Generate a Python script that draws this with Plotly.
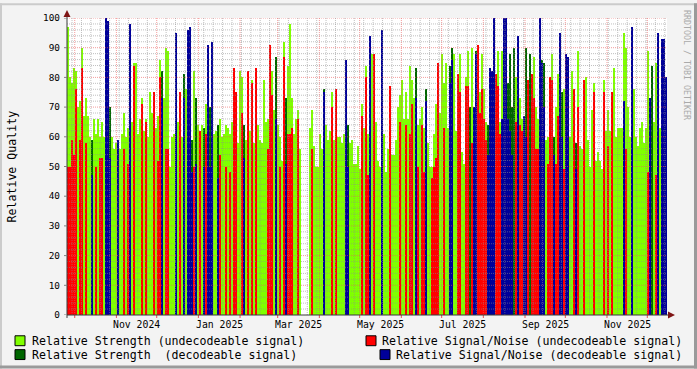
import plotly.graph_objects as go
import pandas as pd

# ---- data (one value per consolidated time step, 0 = no sample) ----
strength_undec = [
    97, 80, 78, 83, 82, 70, 72, 90, 67, 73,
    67, 60, 0, 66, 61, 66, 60, 65, 60, 0,
    0, 0, 60, 56, 58, 0, 56, 61, 68, 60,
    63, 0, 65, 85, 85, 61, 66, 73, 62, 66,
    60, 75, 68, 70, 63, 67, 86, 0, 73, 90,
    89, 50, 60, 61, 0, 65, 60, 60, 0, 76,
    0, 0, 0, 82, 0, 64, 62, 64, 0, 71,
    0, 0, 0, 61, 62, 0, 66, 60, 61, 64,
    63, 61, 65, 82, 65, 58, 82, 80, 0, 59,
    63, 62, 79, 58, 60, 64, 59, 58, 79, 65,
    66, 64, 82, 69, 0, 64, 60, 52, 92, 0,
    84, 98, 73, 61, 66, 69, 56, 0, 0, 0,
    0, 63, 69, 57, 50, 50, 61, 56, 0, 64,
    59, 62, 75, 59, 76, 60, 60, 58, 61, 0,
    0, 58, 59, 51, 51, 57, 49, 71, 63, 84,
    61, 0, 88, 88, 65, 52, 50, 0, 61, 48,
    56, 59, 54, 54, 59, 70, 74, 79, 66, 75,
    66, 84, 79, 73, 0, 64, 66, 70, 63, 0,
    58, 50, 50, 61, 71, 70, 68, 88, 78, 85,
    63, 0, 0, 88, 62, 80, 88, 55, 51, 80,
    89, 0, 90, 0, 0, 68, 75, 88, 76, 65,
    0, 0, 0, 0, 70, 89, 65, 89, 0, 0,
    0, 0, 0, 0, 80, 0, 73, 66, 0, 0,
    60, 0, 76, 87, 70, 66, 0, 0, 0, 59,
    60, 75, 88, 0, 70, 81, 0, 0, 76, 0,
    0, 60, 82, 63, 0, 89, 57, 56, 68, 80,
    59, 50, 69, 78, 52, 55, 52, 49, 79, 62,
    69, 62, 61, 83, 60, 63, 63, 63, 95, 90,
    70, 60, 0, 76, 60, 57, 63, 65, 58, 63,
    89, 0, 0, 65, 85, 0, 63, 0, 0, 0,
]
snr_undec = [
    50, 50, 59, 54, 76, 0, 59, 83, 0, 58,
    0, 0, 0, 0, 50, 0, 53, 53, 0, 0,
    0, 0, 0, 0, 0, 0, 0, 0, 56, 0,
    51, 0, 0, 84, 0, 0, 0, 71, 0, 65,
    0, 0, 0, 75, 0, 52, 80, 0, 0, 56,
    56, 0, 0, 0, 0, 0, 75, 0, 0, 0,
    0, 0, 0, 50, 0, 0, 62, 0, 0, 61,
    0, 0, 0, 0, 0, 0, 54, 0, 0, 50,
    0, 48, 0, 83, 75, 0, 0, 68, 0, 0,
    82, 0, 78, 0, 83, 0, 0, 0, 0, 0,
    56, 91, 74, 0, 0, 0, 50, 0, 87, 0,
    61, 61, 63, 0, 0, 66, 0, 0, 0, 0,
    0, 0, 56, 0, 0, 0, 0, 0, 0, 0,
    0, 0, 70, 0, 76, 0, 0, 0, 0, 0,
    0, 0, 0, 0, 0, 0, 0, 67, 0, 80,
    47, 0, 0, 88, 0, 0, 0, 0, 0, 0,
    0, 77, 0, 0, 0, 0, 65, 0, 0, 64,
    0, 61, 71, 0, 0, 50, 0, 64, 48, 0,
    0, 0, 46, 50, 53, 85, 0, 0, 63, 0,
    0, 0, 0, 0, 0, 81, 75, 0, 0, 77,
    77, 0, 58, 0, 0, 91, 68, 76, 66, 59,
    0, 0, 0, 0, 81, 77, 61, 0, 0, 0,
    0, 0, 0, 0, 65, 0, 64, 62, 0, 0,
    79, 0, 81, 73, 56, 56, 0, 0, 0, 0,
    51, 80, 79, 0, 51, 67, 0, 0, 49, 0,
    0, 0, 0, 76, 0, 70, 0, 0, 79, 0,
    0, 0, 0, 75, 0, 0, 0, 0, 75, 0,
    57, 0, 75, 0, 0, 0, 0, 0, 0, 56,
    0, 0, 0, 0, 0, 0, 0, 0, 0, 0,
    48, 0, 0, 0, 47, 0, 0, 0, 0, 0,
]
strength_dec = [
    0, 0, 0, 0, 0, 0, 0, 0, 0, 0,
    0, 0, 59, 0, 0, 0, 0, 0, 0, 89,
    76, 70, 0, 0, 0, 0, 0, 0, 0, 0,
    0, 0, 0, 0, 0, 0, 0, 0, 0, 0,
    0, 0, 0, 0, 0, 0, 0, 82, 0, 0,
    0, 0, 0, 0, 80, 0, 0, 0, 81, 0,
    90, 90, 59, 0, 73, 0, 0, 0, 63, 0,
    70, 70, 0, 0, 0, 64, 0, 0, 0, 0,
    0, 0, 0, 0, 0, 0, 0, 0, 64, 0,
    0, 0, 0, 0, 0, 0, 0, 0, 0, 0,
    0, 0, 0, 0, 87, 0, 0, 0, 0, 73,
    0, 0, 0, 0, 0, 0, 0, 0, 0, 0,
    0, 0, 0, 0, 0, 0, 0, 0, 76, 0,
    0, 0, 0, 0, 0, 0, 0, 0, 0, 58,
    64, 0, 0, 0, 0, 0, 0, 0, 0, 0,
    0, 82, 0, 0, 0, 0, 0, 0, 0, 0,
    0, 0, 0, 0, 0, 0, 0, 0, 0, 0,
    0, 0, 0, 0, 83, 0, 0, 0, 0, 76,
    0, 0, 0, 0, 0, 0, 0, 0, 0, 0,
    0, 84, 90, 0, 0, 0, 0, 0, 0, 0,
    0, 70, 0, 0, 89, 0, 0, 0, 0, 0,
    64, 63, 82, 0, 0, 0, 0, 0, 88, 77,
    78, 88, 70, 90, 0, 0, 0, 0, 0, 90,
    0, 88, 0, 0, 0, 0, 82, 86, 85, 0,
    0, 0, 0, 60, 0, 0, 73, 75, 0, 0,
    0, 0, 0, 0, 58, 0, 0, 0, 0, 0,
    0, 0, 0, 0, 0, 0, 0, 0, 0, 0,
    0, 0, 0, 0, 0, 0, 0, 0, 0, 0,
    0, 0, 90, 0, 0, 0, 0, 0, 0, 0,
    0, 50, 84, 0, 0, 0, 0, 63, 80, 64,
]
snr_dec = [
    0, 0, 0, 0, 0, 0, 0, 0, 0, 0,
    0, 0, 47, 0, 0, 0, 0, 0, 0, 100,
    99, 53, 0, 0, 0, 59, 0, 0, 0, 0,
    0, 98, 0, 0, 0, 0, 0, 0, 0, 0,
    0, 0, 0, 0, 0, 0, 0, 73, 0, 0,
    0, 0, 0, 0, 95, 0, 0, 0, 73, 0,
    96, 97, 48, 0, 51, 0, 0, 0, 50, 0,
    91, 50, 92, 0, 0, 46, 0, 0, 0, 0,
    0, 0, 0, 0, 0, 0, 0, 0, 53, 0,
    0, 0, 0, 0, 0, 0, 0, 0, 0, 0,
    0, 0, 0, 0, 66, 0, 0, 0, 0, 51,
    0, 0, 0, 0, 0, 0, 0, 0, 0, 0,
    0, 0, 0, 0, 0, 0, 0, 0, 75, 0,
    0, 0, 0, 0, 0, 0, 0, 0, 0, 86,
    50, 0, 0, 0, 0, 0, 0, 0, 0, 0,
    0, 94, 0, 0, 0, 0, 0, 96, 0, 0,
    0, 0, 0, 0, 0, 0, 0, 0, 0, 0,
    0, 0, 0, 0, 73, 0, 0, 0, 0, 72,
    0, 0, 0, 0, 0, 0, 0, 0, 0, 0,
    0, 78, 86, 0, 0, 0, 0, 0, 0, 0,
    0, 0, 0, 70, 88, 0, 0, 0, 0, 0,
    54, 83, 82, 100, 0, 0, 0, 66, 100, 100,
    66, 62, 54, 0, 0, 94, 0, 0, 67, 60,
    0, 0, 0, 0, 0, 0, 100, 85, 70, 0,
    0, 0, 0, 54, 0, 0, 95, 60, 0, 88,
    87, 0, 0, 0, 49, 0, 0, 0, 0, 0,
    0, 0, 0, 0, 0, 0, 0, 0, 0, 0,
    0, 0, 0, 0, 0, 0, 0, 0, 72, 0,
    0, 0, 97, 0, 0, 0, 0, 0, 0, 0,
    0, 73, 0, 0, 0, 95, 0, 93, 93, 80,
]

series_names = [
    "Relative Strength (undecodeable signal)",
    "Relative Signal/Noise (undecodeable signal)",
    "Relative Strength\u00a0\u00a0(decodeable signal)",
    "Relative Signal/Noise (decodeable signal)",
]
series_colors = ["#80ff00", "#ff0000", "#006600", "#000099"]
month_labels = ["Nov 2024", "Jan 2025", "Mar 2025", "May 2025", "Jul 2025", "Sep 2025", "Nov 2025"]
month_label_starts = ["2024-11-01", "2025-01-01", "2025-03-01", "2025-05-01", "2025-07-01", "2025-09-01", "2025-11-01"]
y_tick_values = list(range(0, 101, 10))

# ---- time axis (rrd steps) ----
t_start = pd.Timestamp("2024-09-25 06:00")
t_end = pd.Timestamp("2025-12-15 15:36")
edges = pd.date_range(t_start, t_end, periods=len(strength_undec) + 1)
centers = edges[:-1] + (edges[1:] - edges[:-1]) / 2
step_ms = (edges[1] - edges[0]).total_seconds() * 1000

# ---- pixel helpers ----
W, H = 697, 369
L, R, T, B = 67, 30, 15, 54
PW, PH = W - L - R, H - T - B


def px(x):
    return (x - L) / PW


def py(y):
    return (H - B - y) / PH


FONT = "DejaVu Sans Mono"

fig = go.Figure()
for vals, col, name in zip([strength_undec, snr_undec, strength_dec, snr_dec], series_colors, series_names):
    fig.add_trace(go.Bar(
        x=centers, y=[v if v else None for v in vals], width=step_ms,
        marker=dict(color=col, line=dict(width=0)), name=name,
        showlegend=False, hoverinfo="skip",
    ))

shapes = []
minor_c = "rgba(140,140,140,0.55)"
major_c = "rgba(235,90,90,0.6)"
# horizontal grid
for v in range(2, 100, 2):
    if v % 10:
        shapes.append(dict(type="line", xref="paper", yref="y", x0=0, x1=1, y0=v, y1=v,
                           line=dict(color=minor_c, width=1, dash="1px,1px"), layer="above"))
for v in range(10, 101, 10):
    shapes.append(dict(type="line", xref="paper", yref="y", x0=0, x1=1, y0=v, y1=v,
                       line=dict(color=major_c, width=1, dash="1px,1px"), layer="above"))
# vertical grid
month_starts = pd.date_range("2024-10-01", t_end, freq="MS")
for d in pd.date_range("2024-09-29", t_end, freq="7D"):
    if min(abs((d - m).total_seconds()) for m in month_starts) < 86400:
        continue
    shapes.append(dict(type="line", xref="x", yref="y", x0=d, x1=d, y0=0, y1=100,
                       line=dict(color=minor_c, width=1, dash="1px,1px"), layer="above"))
for d in month_starts:
    shapes.append(dict(type="line", xref="x", yref="y", x0=d, x1=d, y0=0, y1=100,
                       line=dict(color=major_c, width=1, dash="1px,1px"), layer="above"))
    shapes.append(dict(type="line", xref="x", yref="paper", x0=d, x1=d, y0=py(315), y1=py(318),
                       line=dict(color="#e05050", width=1), layer="above"))

# axis lines and arrows
axis_c = "#3a3a3a"
arrow_c = "#7f1515"
shapes.append(dict(type="line", xref="paper", yref="paper", x0=px(67), x1=px(669), y0=py(315), y1=py(315),
                   line=dict(color=axis_c, width=1), layer="above"))
shapes.append(dict(type="line", xref="paper", yref="paper", x0=px(67), x1=px(67), y0=py(318), y1=py(13),
                   line=dict(color=axis_c, width=1), layer="above"))
shapes.append(dict(type="path", xref="paper", yref="paper",
                   path=f"M {px(67)},{py(7)} L {px(63.5)},{py(14)} L {px(70.5)},{py(14)} Z",
                   fillcolor=arrow_c, line=dict(width=0), layer="above"))
shapes.append(dict(type="path", xref="paper", yref="paper",
                   path=f"M {px(675)},{py(315)} L {px(668)},{py(311.5)} L {px(668)},{py(318.5)} Z",
                   fillcolor=arrow_c, line=dict(width=0), layer="above"))
# y ticks
for v in y_tick_values:
    shapes.append(dict(type="line", xref="paper", yref="y", x0=px(64), x1=px(67), y0=v, y1=v,
                       line=dict(color="#808080", width=1), layer="above"))

# frame shading
shapes.append(dict(type="rect", xref="paper", yref="paper", x0=px(0), x1=px(697), y0=py(0), y1=py(2),
                   fillcolor="#cbcbcb", line=dict(width=0), layer="above"))
shapes.append(dict(type="rect", xref="paper", yref="paper", x0=px(0), x1=px(2), y0=py(0), y1=py(369),
                   fillcolor="#cbcbcb", line=dict(width=0), layer="above"))
shapes.append(dict(type="rect", xref="paper", yref="paper", x0=px(0), x1=px(697), y0=py(366), y1=py(369),
                   fillcolor="#9a9a9a", line=dict(width=0), layer="above"))
shapes.append(dict(type="rect", xref="paper", yref="paper", x0=px(694), x1=px(697), y0=py(0), y1=py(369),
                   fillcolor="#9a9a9a", line=dict(width=0), layer="above"))

# legend
legend_pos = [(15, 336, 30, 341), (366, 336, 380, 341), (15, 350, 30, 355), (380, 350, 394, 355)]
legend_order = [0, 1, 2, 3]
annotations = []
for (sx, sy, tx, ty), i in zip(legend_pos, legend_order):
    shapes.append(dict(type="rect", xref="paper", yref="paper", x0=px(sx), x1=px(sx + 10),
                       y0=py(sy), y1=py(sy + 10), fillcolor=series_colors[i],
                       line=dict(color="#000000", width=1), layer="above"))
    annotations.append(dict(xref="paper", yref="paper", x=px(tx), y=py(ty), text=series_names[i],
                            showarrow=False, xanchor="left", yanchor="middle",
                            font=dict(family=FONT, size=11.6, color="#000000")))

# x labels centred in their month
for lab, ms in zip(month_labels, month_label_starts):
    m0 = pd.Timestamp(ms)
    m1 = m0 + pd.offsets.MonthBegin(1)
    annotations.append(dict(xref="x", yref="paper", x=m0 + (m1 - m0) / 2, y=py(325), text=lab,
                            showarrow=False, xanchor="center", yanchor="middle",
                            font=dict(family=FONT, size=9.8, color="#000000")))

annotations.append(dict(xref="paper", yref="paper", x=px(11), y=py(165), text="Relative Quality",
                        textangle=-90, showarrow=False, xanchor="center", yanchor="middle",
                        font=dict(family=FONT, size=11.6, color="#000000")))
annotations.append(dict(xref="paper", yref="paper", x=px(687), y=py(5), text="RRDTOOL / TOBI OETIKER",
                        textangle=90, showarrow=False, xanchor="center", yanchor="top",
                        font=dict(family=FONT, size=8.3, color="#aaaaaa")))

fig.update_layout(
    width=W, height=H,
    margin=dict(l=L, r=R, t=T, b=B, pad=0),
    paper_bgcolor="#f3f3f3", plot_bgcolor="#ffffff",
    barmode="overlay", bargap=0,
    showlegend=False,
    shapes=shapes, annotations=annotations,
    xaxis=dict(type="date", range=[t_start, t_end], showgrid=False, zeroline=False,
               showticklabels=False, ticks="", showline=False, fixedrange=True),
    yaxis=dict(range=[0, 100], tickvals=y_tick_values, showgrid=False, zeroline=False,
               ticks="", ticklabelstandoff=6, showline=False,
               tickfont=dict(family=FONT, size=9.4, color="#000000"), fixedrange=True),
)

fig.write_html("out.html", config={"displayModeBar": False})
